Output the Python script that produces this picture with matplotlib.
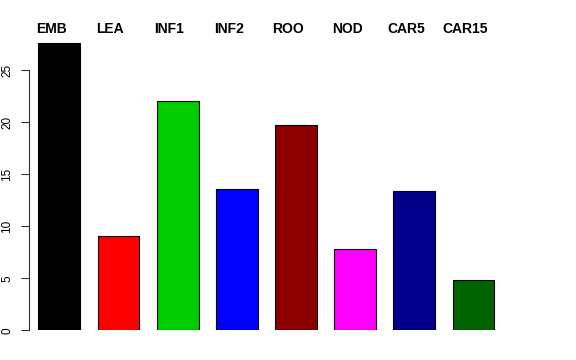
import matplotlib
matplotlib.use("Agg")
import matplotlib.pyplot as plt
import numpy as np

plt.rcParams["font.family"] = ["Liberation Sans", "DejaVu Sans"]

# data
names = ["EMB", "LEA", "INF1", "INF2", "ROO", "NOD", "CAR5", "CAR15"]
values = [27.6, 9.1, 22.0, 13.6, 19.75, 7.85, 13.4, 4.8]
colors = ["#000000", "#FF0000", "#00CD00", "#0000FF",
          "#8B0000", "#FF00FF", "#00008B", "#006400"]
yticks = [0, 5, 10, 15, 20, 25]

# R barplot style positions: width 1, space 0.2
x = 0.7 + 1.2 * np.arange(len(names))

fig = plt.figure(figsize=(5.76, 3.6), dpi=100)
ax = fig.add_axes([29 / 576, 29.7 / 360, 481 / 576, 310.3 / 360])
ax.bar(x, values, width=0.85, color=colors, edgecolor="black", linewidth=0.8)

for xi, name in zip(x, names):
    ax.text(xi - 0.165, 28.9, name, ha="center", va="center",
            fontsize=10, fontweight="bold")

ax.set_xlim(0.085, 9.841)
ax.set_ylim(0, 29.81)
ax.set_yticks(yticks)
ax.set_yticklabels([str(t) for t in yticks], rotation=90, va="center", fontsize=8.5)
ax.tick_params(axis="y", length=5.5, width=0.8, pad=6, color="#333333",
               labelcolor="black")
ax.set_xticks([])
for s in ["top", "right", "bottom"]:
    ax.spines[s].set_visible(False)
ax.spines["left"].set_bounds(0, 25)
ax.spines["left"].set_linewidth(0.8)
ax.spines["left"].set_color("#333333")

fig.savefig("out.png", dpi=100)
